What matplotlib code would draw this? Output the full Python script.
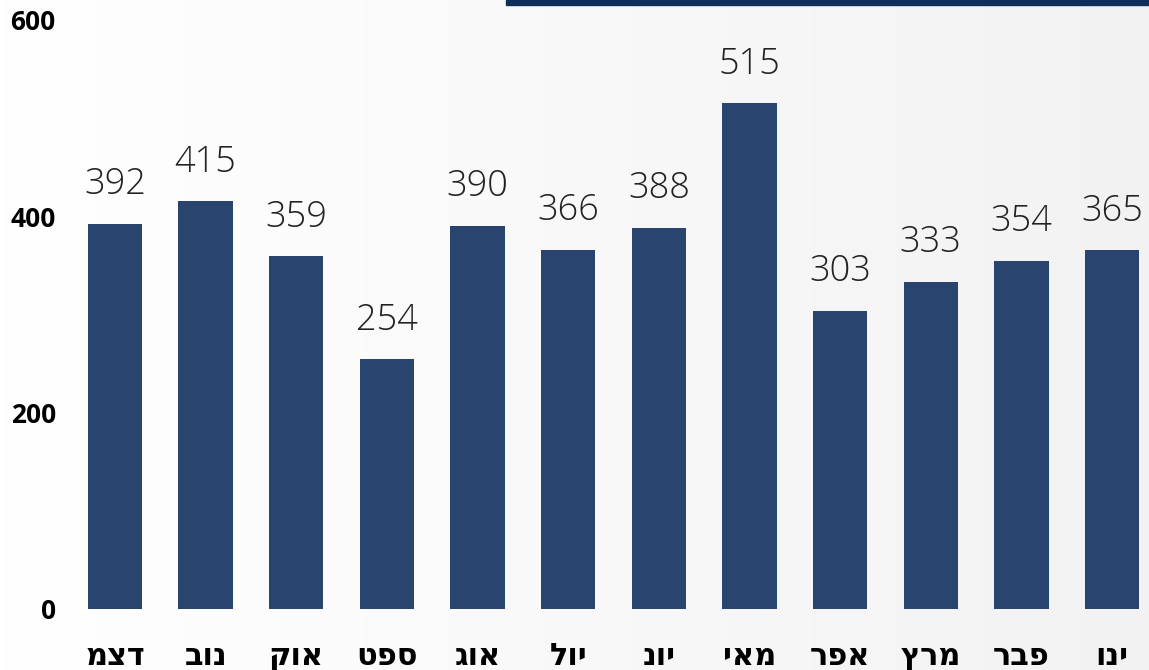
import numpy as np
import matplotlib
matplotlib.use("Agg")
import matplotlib.pyplot as plt

months = ["ינו", "פבר", "מרץ", "אפר", "מאי", "יונ", "יול", "אוג", "ספט", "אוק", "נוב", "דצמ"]
values = [365, 354, 333, 303, 515, 388, 366, 390, 254, 359, 415, 392]
yticks = [0, 200, 400, 600]

W, H = 1149, 670
fig = plt.figure(figsize=(W / 100, H / 100), dpi=100)

# background gradient
bg = fig.add_axes([0, 0, 1, 1])
grad = np.linspace(1.0, 0.95, 256)[None, :]
bg.imshow(np.dstack([grad, grad, grad]), aspect="auto", extent=[0, 1, 0, 1])
bg.set_axis_off()
bg.add_patch(plt.Rectangle((506 / W, 1 - 5 / H), 1 - 506 / W, 5 / H, color="#0E2F5A",
                           transform=bg.transAxes))

left_px, right_px = 60, 1149
bottom_px, top_px = 608.5, 20
ax = fig.add_axes([left_px / W, 1 - bottom_px / H, (right_px - left_px) / W, (bottom_px - top_px) / H])
ax.patch.set_alpha(0)
x = np.arange(len(months))
ax.bar(x, values, width=0.6, color="#29456F")
step = (1112 - 115) / 11
ax.set_xlim(11 + (115 - left_px) / step, 0 - (right_px - 1112) / step)
ax.set_ylim(0, 600)
ax.set_yticks(yticks)
ax.set_yticklabels([str(t) for t in yticks], fontsize=19, fontweight="bold",
                   family=["Open Sans", "DejaVu Sans"])
ax.set_xticks(x)
# the reference shows the letters in stored order from left to right
ax.set_xticklabels([m[::-1] for m in months], fontsize=22, fontweight="bold",
                   family=["Open Sans", "DejaVu Sans"])
ax.tick_params(axis="both", length=0)
ax.tick_params(axis="y", pad=3)
ax.tick_params(axis="x", pad=24)
for s in ax.spines.values():
    s.set_visible(False)
for xi, v in zip(x, values):
    ax.annotate(str(v), (xi, v), xytext=(0, 15), textcoords="offset points",
                ha="center", va="bottom", fontsize=26, fontweight="light", color="#222222",
                family=["Open Sans", "DejaVu Sans"])

fig.savefig("out.png", dpi=100)
